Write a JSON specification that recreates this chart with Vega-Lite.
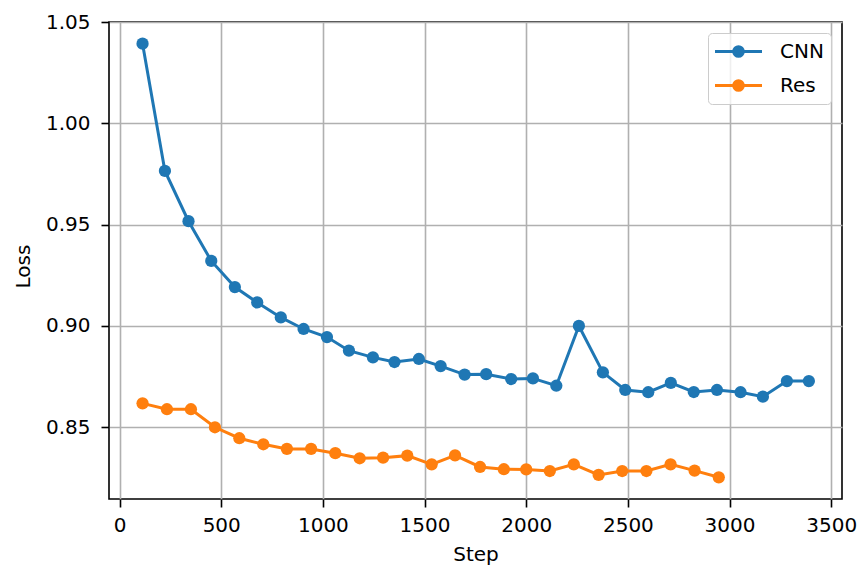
{
  "$schema": "https://vega.github.io/schema/vega-lite/v6.json",
  "autosize": {"type": "none"},
  "padding": {"left": 109, "top": 22, "right": 20, "bottom": 68},
  "width": 733,
  "height": 477,
  "background": "white",
  "config": {
    "view": {"stroke": "black", "strokeWidth": 1.6},
    "font": "DejaVu Sans",
    "axis": {
      "labelFont": "DejaVu Sans", "labelFontSize": 20, "labelColor": "#000",
      "titleFont": "DejaVu Sans", "titleFontSize": 20, "titleFontWeight": "normal", "titleColor": "#000",
      "gridColor": "#b0b0b0", "gridWidth": 1.6, "gridOpacity": 1,
      "tickColor": "#000", "tickWidth": 1.6, "tickSize": 8, "domain": false
    }
  },
  "data": {"values": [
    {"model": "CNN", "step": 113, "loss": 1.0393},
    {"model": "CNN", "step": 223, "loss": 0.9765},
    {"model": "CNN", "step": 339, "loss": 0.9517},
    {"model": "CNN", "step": 451, "loss": 0.9321},
    {"model": "CNN", "step": 567, "loss": 0.9192},
    {"model": "CNN", "step": 677, "loss": 0.9116},
    {"model": "CNN", "step": 793, "loss": 0.9042},
    {"model": "CNN", "step": 905, "loss": 0.8985},
    {"model": "CNN", "step": 1020, "loss": 0.8945},
    {"model": "CNN", "step": 1128, "loss": 0.8878},
    {"model": "CNN", "step": 1246, "loss": 0.8845},
    {"model": "CNN", "step": 1352, "loss": 0.8822},
    {"model": "CNN", "step": 1472, "loss": 0.8837},
    {"model": "CNN", "step": 1579, "loss": 0.8802},
    {"model": "CNN", "step": 1697, "loss": 0.8760},
    {"model": "CNN", "step": 1803, "loss": 0.8762},
    {"model": "CNN", "step": 1926, "loss": 0.8738},
    {"model": "CNN", "step": 2033, "loss": 0.8741},
    {"model": "CNN", "step": 2148, "loss": 0.8705},
    {"model": "CNN", "step": 2259, "loss": 0.9000},
    {"model": "CNN", "step": 2377, "loss": 0.8771},
    {"model": "CNN", "step": 2487, "loss": 0.8684},
    {"model": "CNN", "step": 2600, "loss": 0.8673},
    {"model": "CNN", "step": 2711, "loss": 0.8719},
    {"model": "CNN", "step": 2824, "loss": 0.8674},
    {"model": "CNN", "step": 2938, "loss": 0.8684},
    {"model": "CNN", "step": 3054, "loss": 0.8673},
    {"model": "CNN", "step": 3164, "loss": 0.8651},
    {"model": "CNN", "step": 3282, "loss": 0.8728},
    {"model": "CNN", "step": 3390, "loss": 0.8728},
    {"model": "Res", "step": 113, "loss": 0.8618},
    {"model": "Res", "step": 233, "loss": 0.8589},
    {"model": "Res", "step": 351, "loss": 0.8589},
    {"model": "Res", "step": 469, "loss": 0.8500},
    {"model": "Res", "step": 589, "loss": 0.8446},
    {"model": "Res", "step": 707, "loss": 0.8416},
    {"model": "Res", "step": 823, "loss": 0.8393},
    {"model": "Res", "step": 942, "loss": 0.8393},
    {"model": "Res", "step": 1061, "loss": 0.8372},
    {"model": "Res", "step": 1181, "loss": 0.8347},
    {"model": "Res", "step": 1296, "loss": 0.8350},
    {"model": "Res", "step": 1415, "loss": 0.8360},
    {"model": "Res", "step": 1535, "loss": 0.8317},
    {"model": "Res", "step": 1650, "loss": 0.8361},
    {"model": "Res", "step": 1773, "loss": 0.8304},
    {"model": "Res", "step": 1890, "loss": 0.8293},
    {"model": "Res", "step": 2000, "loss": 0.8292},
    {"model": "Res", "step": 2116, "loss": 0.8284},
    {"model": "Res", "step": 2234, "loss": 0.8317},
    {"model": "Res", "step": 2356, "loss": 0.8265},
    {"model": "Res", "step": 2472, "loss": 0.8284},
    {"model": "Res", "step": 2591, "loss": 0.8284},
    {"model": "Res", "step": 2710, "loss": 0.8317},
    {"model": "Res", "step": 2828, "loss": 0.8286},
    {"model": "Res", "step": 2947, "loss": 0.8253}
  ]},
  "mark": {"type": "line", "strokeWidth": 3, "point": {"filled": true, "size": 150, "opacity": 1}},
  "encoding": {
    "x": {
      "field": "step", "type": "quantitative",
      "scale": {"domain": [-52, 3553], "nice": false, "zero": false},
      "axis": {"values": [0, 500, 1000, 1500, 2000, 2500, 3000, 3500], "format": "d", "title": "Step", "labelPadding": 8, "titlePadding": 9, "grid": true}
    },
    "y": {
      "field": "loss", "type": "quantitative",
      "scale": {"domain": [0.8146, 1.05], "nice": false, "zero": false},
      "axis": {"values": [0.85, 0.9, 0.95, 1.0, 1.05], "format": ".2f", "title": "Loss", "labelPadding": 11, "titlePadding": 12, "titleY": 244, "grid": true}
    },
    "color": {
      "field": "model", "type": "nominal",
      "scale": {"domain": ["CNN", "Res"], "range": ["#1f77b4", "#ff7f0e"]},
      "legend": {
        "title": null, "orient": "top-right", "offset": 11, "padding": 7,
        "strokeColor": "#cccccc", "fillColor": "rgba(255,255,255,0.8)", "cornerRadius": 4,
        "labelFont": "DejaVu Sans", "labelFontSize": 20, "labelColor": "#000", "labelOffset": 30,
        "symbolType": "M-2.35,0L2.35,0M0.48,0A0.48,0.48,0,1,1,-0.48,0A0.48,0.48,0,1,1,0.48,0Z",
        "symbolSize": 400, "symbolStrokeWidth": 3, "symbolOffset": 12, "rowPadding": 11,
        "encode": {"symbols": {"update": {
          "fill": {"scale": "color", "field": "value"},
          "stroke": {"scale": "color", "field": "value"},
          "strokeWidth": {"value": 3},
          "opacity": {"value": 1}
        }}}
      }
    }
  }
}
